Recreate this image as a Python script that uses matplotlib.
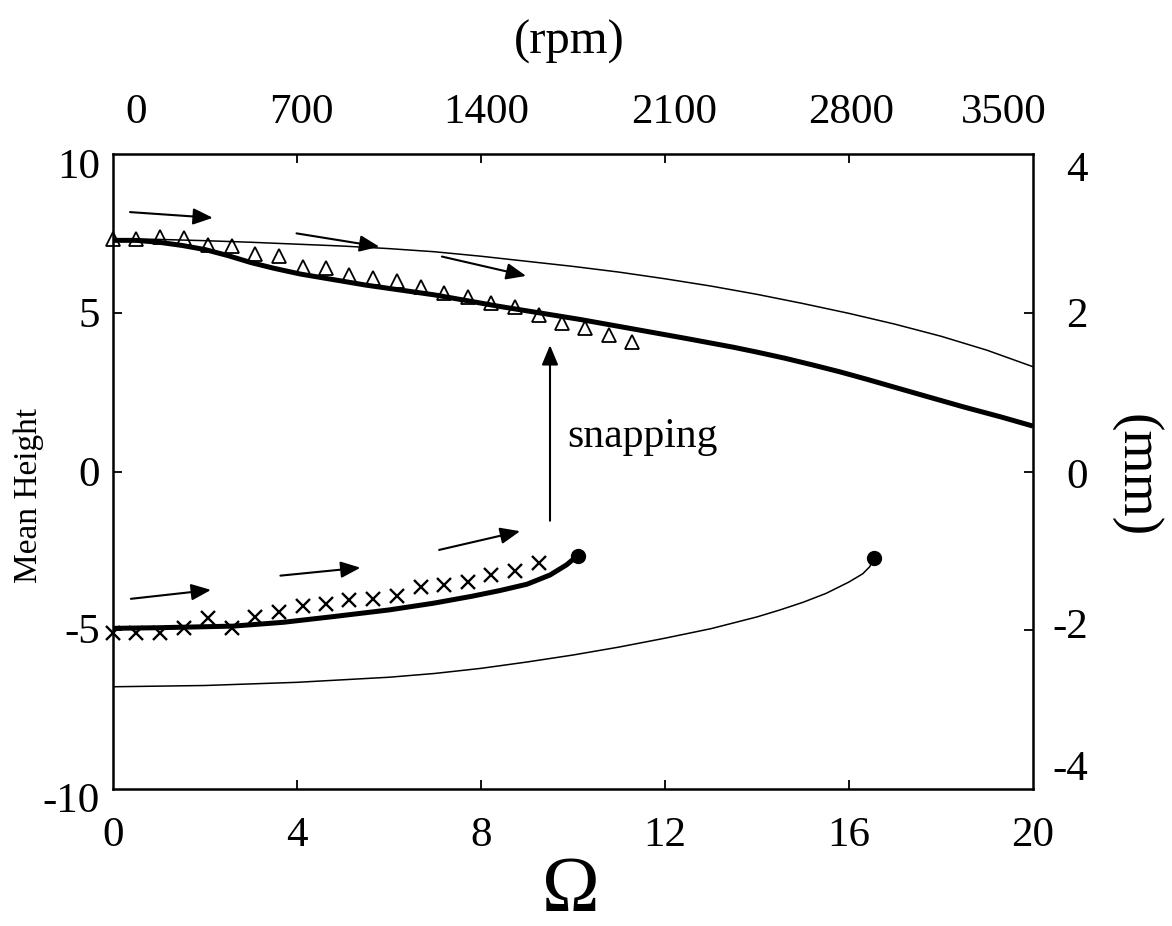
import matplotlib
matplotlib.use("Agg")
import matplotlib.pyplot as plt
from matplotlib.transforms import blended_transform_factory

plt.rcParams['font.family'] = ['Liberation Serif', 'DejaVu Serif']

W, H = 1172, 926

# ---------------- data ----------------
thin_up_x = [0, 1, 2, 3, 4, 5, 6, 7, 8, 9, 10, 11, 12, 13, 14, 15, 16, 17, 18, 19, 20]
thin_up_y = [7.33, 7.31, 7.27, 7.22, 7.16, 7.10, 7.02, 6.92, 6.78, 6.62, 6.46, 6.28,
             6.07, 5.84, 5.58, 5.29, 4.98, 4.64, 4.26, 3.82, 3.30]

thick_up_x = [0, 0.5, 1.0, 1.5, 2.0, 2.5, 3.0, 3.5, 4.07, 5.5, 7.0, 8.4, 10.15, 11.5,
              12.5, 13.5, 14.0, 14.6, 15.2, 15.8, 16.4, 17.0, 17.7, 18.5, 19.3, 20]
thick_up_y = [7.28, 7.28, 7.22, 7.12, 6.99, 6.80, 6.58, 6.40, 6.22, 5.87, 5.56, 5.20, 4.79, 4.44,
              4.18, 3.91, 3.76, 3.57, 3.36, 3.14, 2.90, 2.65, 2.36, 2.03, 1.72, 1.43]

thick_lo_x = [0, 1, 2.61, 3.7, 4.79, 6.0, 6.96, 7.8, 8.41, 9.0, 9.5, 9.86, 10.1]
thick_lo_y = [-4.94, -4.92, -4.87, -4.75, -4.57, -4.36, -4.15, -3.93, -3.75, -3.55, -3.26, -2.94, -2.65]

thin_lo_x = [0, 2, 4, 6, 7, 8, 9, 10, 11, 12, 13, 14, 14.5, 15, 15.5, 16, 16.3, 16.45, 16.54]
thin_lo_y = [-6.78, -6.74, -6.64, -6.48, -6.36, -6.20, -6.00, -5.78, -5.53, -5.25, -4.95,
             -4.58, -4.36, -4.12, -3.84, -3.48, -3.22, -3.00, -2.73]

end_x = [10.1, 16.54]
end_y = [-2.65, -2.73]

tri_x = [0, 0.51, 1.03, 1.55, 2.06, 2.58, 3.09, 3.61, 4.12, 4.63, 5.14, 5.66, 6.17,
         6.69, 7.2, 7.72, 8.22, 8.73, 9.25, 9.76, 10.27, 10.78, 11.29]
tri_y = [7.33, 7.33, 7.38, 7.34, 7.13, 7.11, 6.85, 6.79, 6.45, 6.42, 6.2, 6.1, 5.99,
         5.81, 5.63, 5.49, 5.30, 5.19, 4.92, 4.67, 4.51, 4.30, 4.09]

crs_x = [0, 0.51, 1.03, 1.55, 2.06, 2.58, 3.09, 3.61, 4.12, 4.63, 5.14, 5.66, 6.17,
         6.69, 7.2, 7.72, 8.22, 8.73, 9.25]
crs_y = [-5.10, -5.10, -5.10, -4.94, -4.62, -4.92, -4.59, -4.41, -4.24, -4.17, -4.05, -4.0, -3.92,
         -3.65, -3.57, -3.47, -3.26, -3.12, -2.87]

# arrows: (tail_x, tail_y, tip_x, tip_y)
arrows = [(0.37, 8.17, 2.17, 7.99),
          (3.99, 7.50, 5.79, 7.08),
          (7.15, 6.77, 8.98, 6.16),
          (0.39, -4.01, 2.13, -3.73),
          (3.64, -3.28, 5.38, -3.03),
          (7.09, -2.47, 8.85, -1.88),
          (9.5, -1.55, 9.5, 3.98)]

bottom_ticks = [0, 4, 8, 12, 16, 20]
bottom_labels = ['0', '4', '8', '12', '16', '20']
top_ticks = [4, 8, 12, 16]
top_labels = ['0', '700', '1400', '2100', '2800', '3500']
top_label_pos = [0.51, 4.1, 8.12, 12.2, 16.04, 19.36]
y_ticks = [5, 0, -5]
left_labels = ['10', '5', '0', '-5', '-10']
left_label_base_px = [178, 327, 486, 643, 812]
right_labels = ['4', '2', '0', '-2', '-4']
right_label_base_px = [181, 327, 488, 638, 780]

# ---------------- figure ----------------
fig = plt.figure(figsize=(W / 100, H / 100), dpi=100)
L, R, T, B = 113, 1033, 154, 789
ax = fig.add_axes([L / W, 1 - B / H, (R - L) / W, (B - T) / H])
ax.set_xlim(0, 20)
ax.set_ylim(-10, 10)
for s in ax.spines.values():
    s.set_linewidth(1.8)

ax.set_xticks(top_ticks)
ax.set_yticks(y_ticks)
ax.tick_params(direction='in', length=6.5, width=1.3, top=True, right=True,
               labelbottom=False, labelleft=False)

ax.plot(thin_up_x, thin_up_y, color='k', lw=1.1, solid_joinstyle='round')
ax.plot(thick_up_x, thick_up_y, color='k', lw=3.6, solid_joinstyle='round', solid_capstyle='butt')
ax.plot(thick_lo_x, thick_lo_y, color='k', lw=3.6, solid_joinstyle='round', solid_capstyle='butt')
ax.plot(thin_lo_x, thin_lo_y, color='k', lw=1.1, solid_joinstyle='round')
ax.plot(end_x, end_y, 'o', color='k', ms=10, zorder=5)
ax.plot(tri_x, tri_y, '^', mfc='none', mec='k', ms=10, mew=1.3, ls='none', clip_on=False, zorder=4)
ax.plot(crs_x, crs_y, 'x', color='k', ms=10, mew=1.7, ls='none', clip_on=False, zorder=4)

for tx, ty, hx, hy in arrows:
    ax.annotate('', xy=(hx, hy), xytext=(tx, ty),
                arrowprops=dict(arrowstyle='-|>,head_length=0.6,head_width=0.25',
                                lw=1.5, color='k', shrinkA=0, shrinkB=0,
                                mutation_scale=20))

def fy(py):
    return 1 - py / H

TS = 31
bt = blended_transform_factory(ax.transData, fig.transFigure)
for x, lab in zip(bottom_ticks, bottom_labels):
    fig.text(x, fy(846), lab, transform=bt, ha='center', va='baseline', fontsize=TS)
for x, lab in zip(top_label_pos, top_labels):
    fig.text(x, fy(123), lab, transform=bt, ha='center', va='baseline', fontsize=TS)
for py, lab in zip(left_label_base_px, left_labels):
    fig.text(100 / W, fy(py), lab, ha='right', va='baseline', fontsize=TS)
for py, lab in zip(right_label_base_px, right_labels):
    fig.text(1088 / W, fy(py), lab, ha='right', va='baseline', fontsize=TS)

fig.text(29 / W, fy(495), 'Mean Height', rotation=90, ha='center', va='center', fontsize=24)
fig.text(1135 / W, fy(476), '(mm)', rotation=270, ha='center', va='center', fontsize=40)
fig.text(569 / W, fy(54), '(rpm)', ha='center', va='baseline', fontsize=35)
fig.text(571 / W, fy(910), 'Ω', ha='center', va='baseline', fontsize=56)
fig.text(567 / W, fy(447), 'snapping', ha='left', va='baseline', fontsize=30)

fig.savefig('out.png', dpi=100)
